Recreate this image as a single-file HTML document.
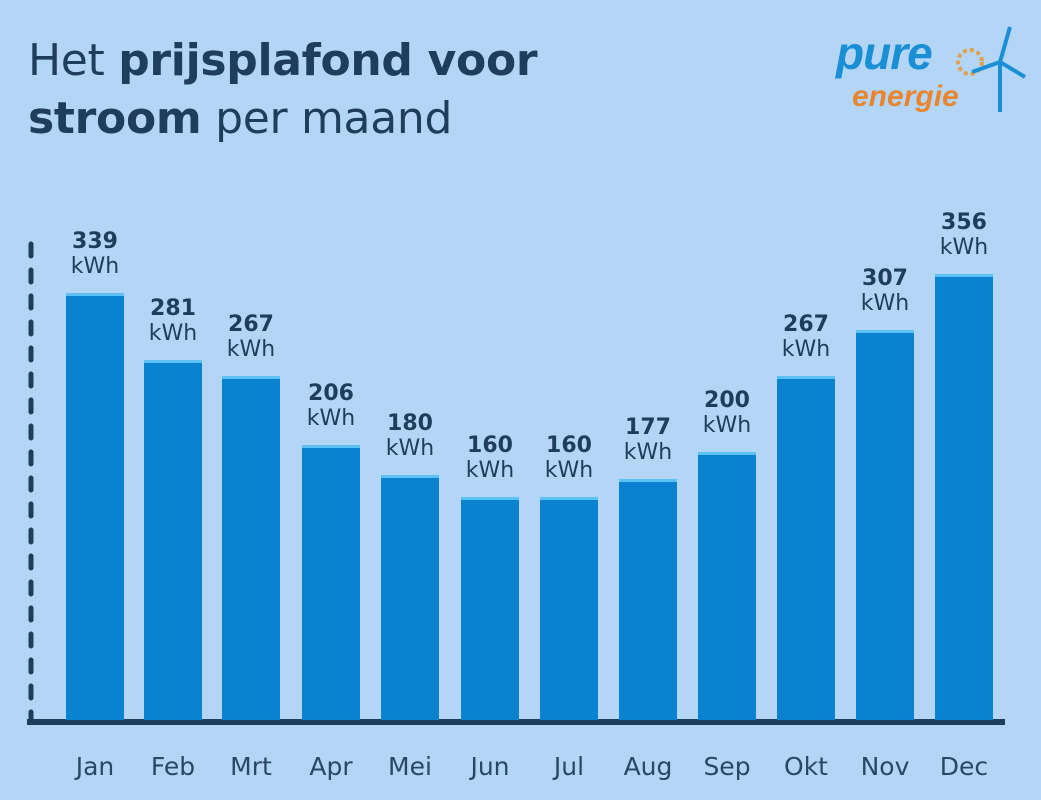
<!DOCTYPE html>
<html><head><meta charset="utf-8"><style>
body{margin:0;width:1041px;height:800px;background:#b4d6f6;font-family:"DejaVu Sans","Liberation Sans",sans-serif;color:#1f3d5c;position:relative;overflow:hidden}
.t{position:absolute;left:28px;font-size:44px;line-height:54px;letter-spacing:-0.3px}
.bar{position:absolute;width:58px;background:#0b82cf;border-top:3px solid #5cc2f5;bottom:80px}
.lab{position:absolute;width:80px;text-align:center;font-size:22px;line-height:25px}
.m{position:absolute;top:752px;width:80px;text-align:center;font-size:25px;color:#2a4866}
</style></head><body>
<div class="t" style="top:34px">Het <b>prijsplafond voor</b></div>
<div class="t" style="top:92px"><b>stroom</b> per maand</div>
<div style="position:absolute;left:836px;top:26px;font:italic bold 46px 'Liberation Sans',sans-serif;color:#1a8fd6;letter-spacing:-1px">pure</div>
<div style="position:absolute;left:852px;top:80px;font:italic bold 30px 'Liberation Sans',sans-serif;color:#e8852e">energie</div>
<svg style="position:absolute;left:940px;top:22px" width="90" height="95"><circle cx="30" cy="40" r="12" fill="none" stroke="#e0a050" stroke-width="4" stroke-dasharray="4 3"/><line x1="60" y1="40" x2="60" y2="90" stroke="#1a8fd6" stroke-width="4"/><line x1="60" y1="40" x2="70" y2="5" stroke="#1a8fd6" stroke-width="4"/><line x1="60" y1="40" x2="85" y2="55" stroke="#1a8fd6" stroke-width="4"/><line x1="60" y1="40" x2="32" y2="50" stroke="#1a8fd6" stroke-width="4"/></svg>
<svg style="position:absolute;left:26px;top:240px" width="10" height="485"><line x1="5" y1="4" x2="5" y2="482" stroke="#1f3d5c" stroke-width="5" stroke-linecap="round" stroke-dasharray="12 14"/></svg>
<div style="position:absolute;left:27px;top:719px;width:978px;height:6px;background:#1f3d5c"></div>
<div id="c"></div>
<script>
var d=[["Jan",66,293,339],["Feb",144,360,281],["Mrt",222,376,267],["Apr",302,445,206],["Mei",381,475,180],["Jun",461,497,160],["Jul",540,497,160],["Aug",619,479,177],["Sep",698,452,200],["Okt",777,376,267],["Nov",856,330,307],["Dec",935,274,356]];
var h="";d.forEach(function(r){var x=r[1],t=r[2];
h+='<div class="bar" style="left:'+x+'px;top:'+t+'px"></div>';
h+='<div class="lab" style="left:'+(x-11)+'px;top:'+(t-64)+'px"><b>'+r[3]+'</b><br>kWh</div>';
h+='<div class="m" style="left:'+(x-11)+'px">'+r[0]+'</div>';});
document.getElementById("c").innerHTML=h;
</script>
</body></html>
